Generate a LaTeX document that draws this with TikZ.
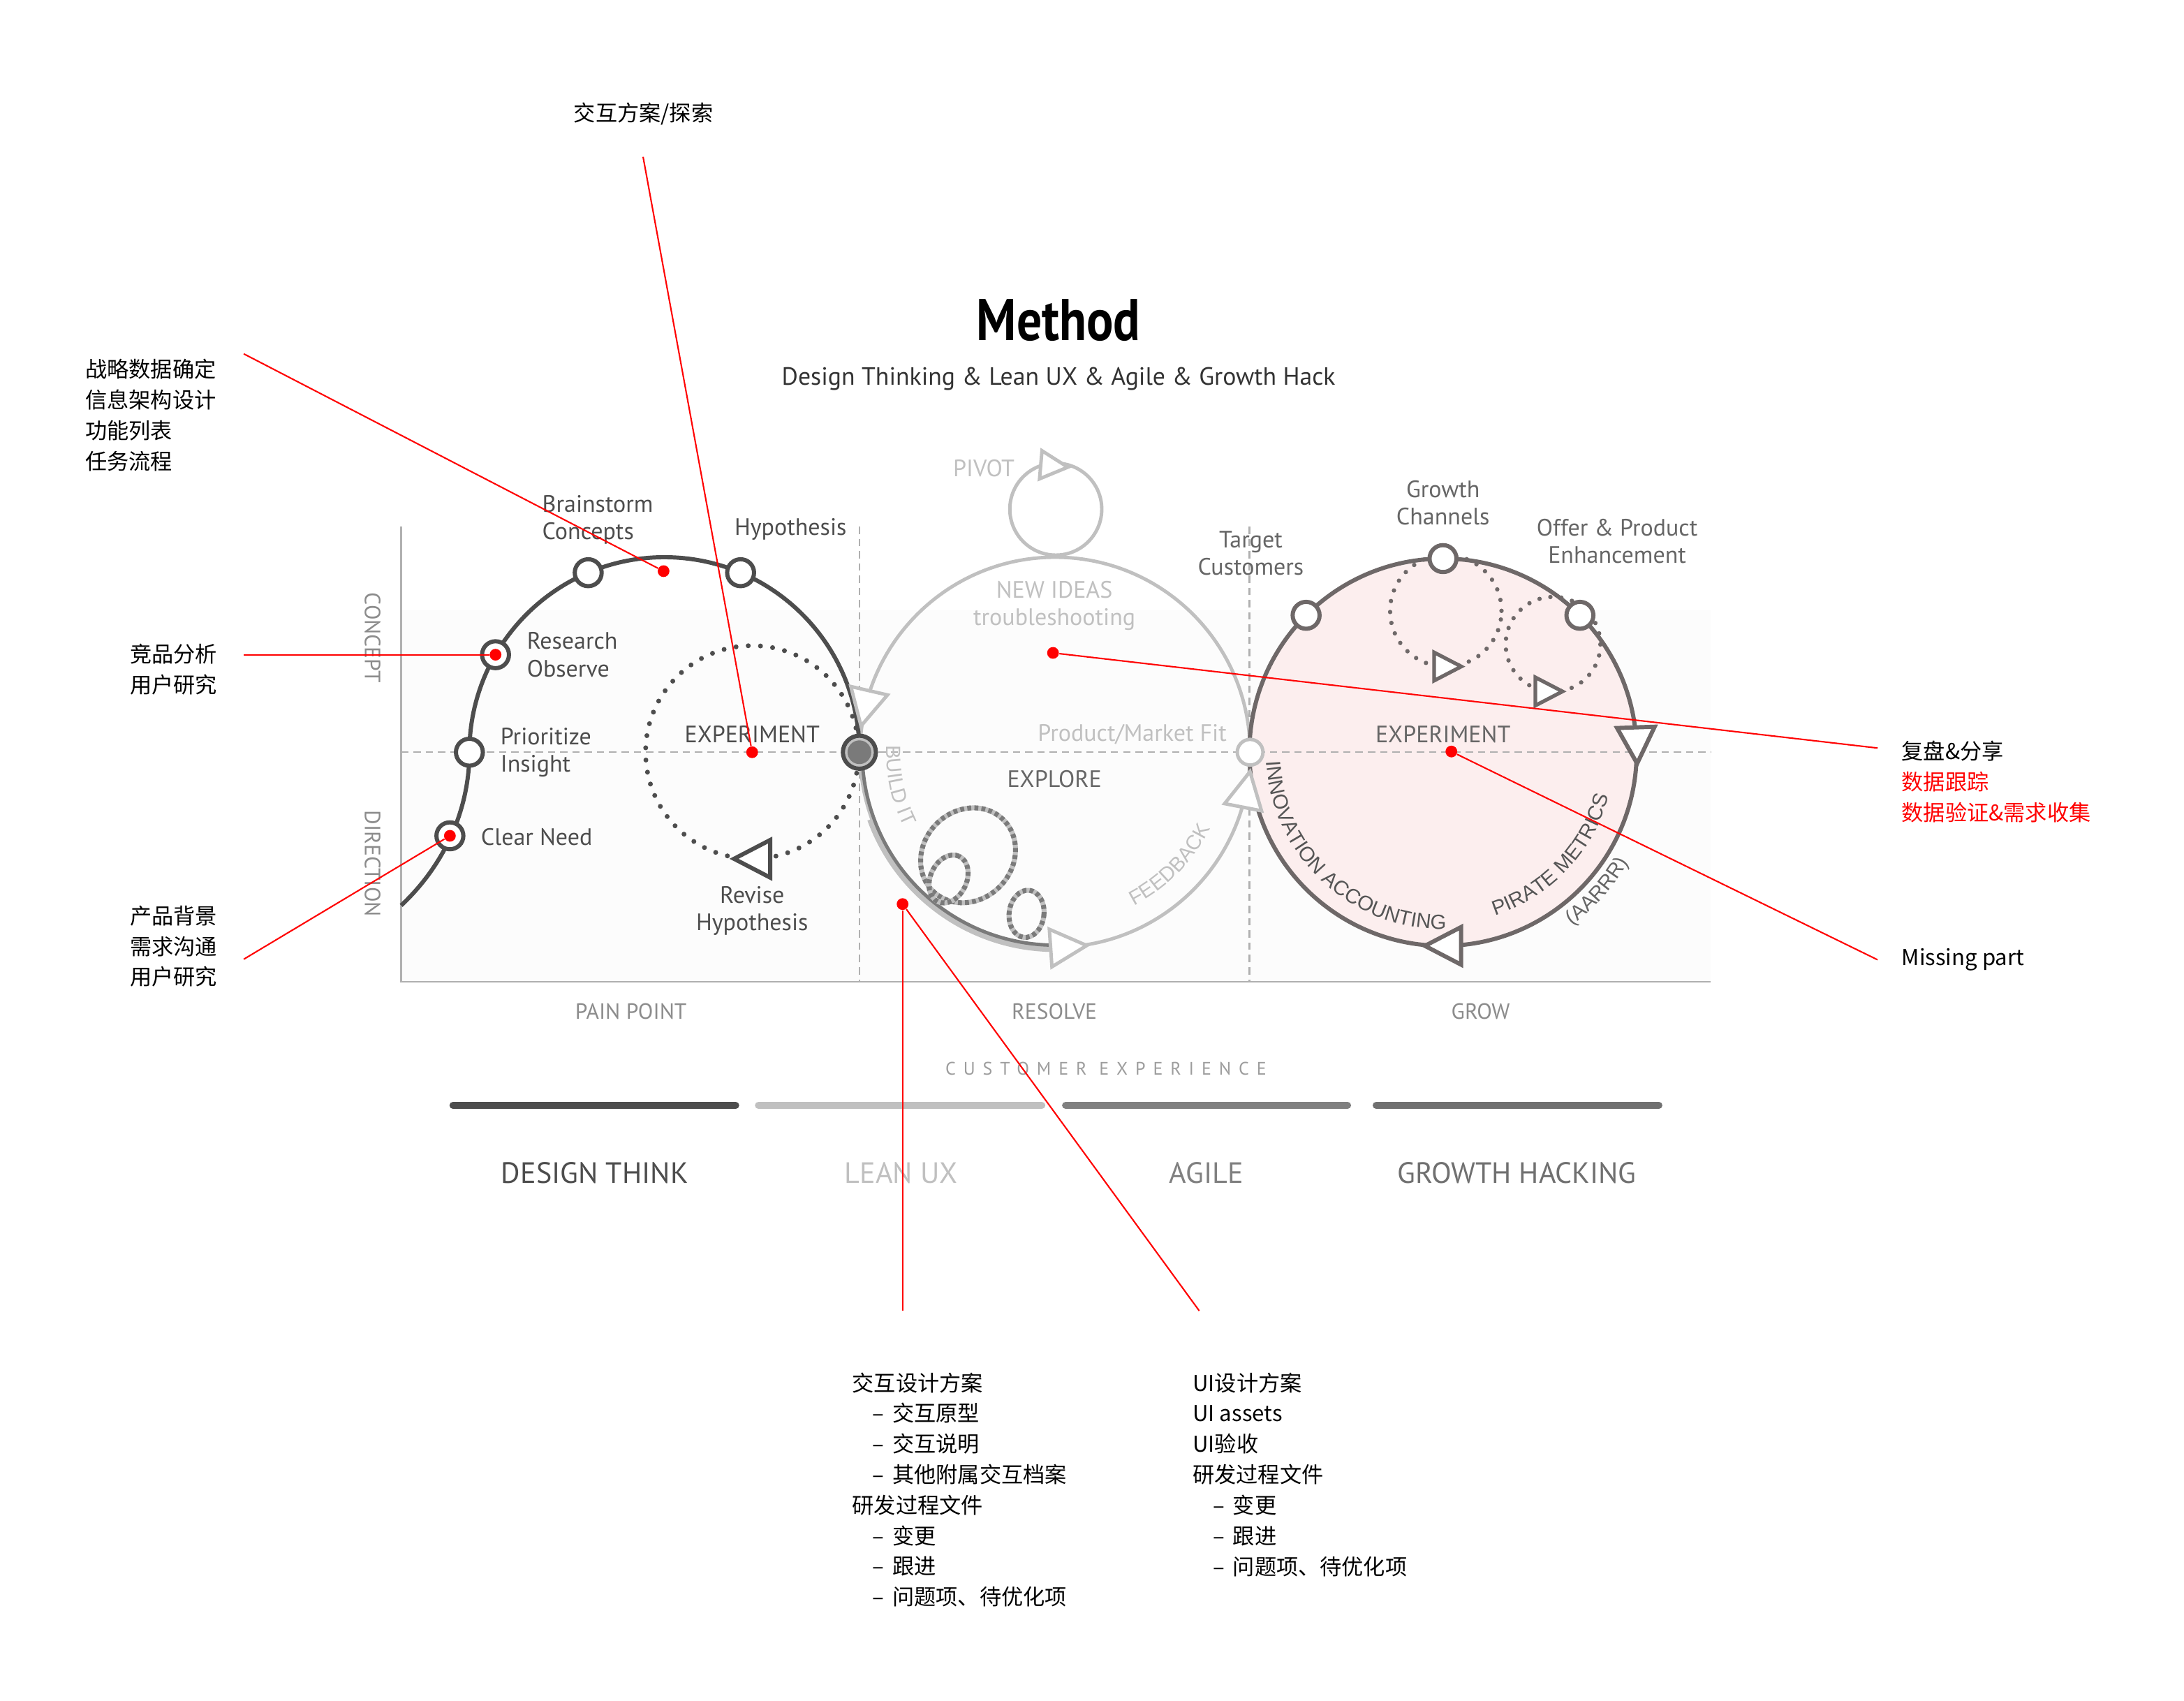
\documentclass[tikz,border=0pt]{standalone}
\usepackage{graphicx}
\usepackage{fontspec}
\setmainfont{PT Sans}
\newfontfamily\cjk{Noto Sans CJK SC}
\newfontfamily\arialfam{Liberation Sans}
\usetikzlibrary{calc,decorations.text}

\definecolor{dtgray}{HTML}{4D4D4D}
\definecolor{luxgray}{HTML}{C0C0C0}
\definecolor{buildgray}{HTML}{7A7A7A}
\definecolor{aglgray}{HTML}{808080}
\definecolor{ghgray}{HTML}{6E6868}
\definecolor{ghbar}{HTML}{707070}
\definecolor{ghtext}{HTML}{555555}
\definecolor{txtgray}{HTML}{666666}
\definecolor{axisgray}{HTML}{8C8C8C}
\definecolor{framegray}{HTML}{B0B0B0}
\definecolor{pinkfill}{HTML}{FCEEEE}
\definecolor{annred}{HTML}{FF0000}

\newcommand\arcfont{\arialfam\fontsize{8.4}{10}\selectfont}
\newcommand\dashitem{\hspace*{8.2pt}\makebox[8.2pt][l]{–}}

\tikzset{
    opentri/.pic={\path[pic actions, line join=miter] (13,0) -- (-13,13.5) -- (-13,-13.5) -- cycle;}
}

\begin{document}
\begin{tikzpicture}[
        x=0.02cm, y=0.02cm,
        dinlabel/.style={font=\fontsize{9.7}{11.2}\selectfont, inner sep=0pt, align=left},
        axislabel/.style={font=\fontsize{9}{11}\selectfont, text=axisgray, inner sep=0pt},
        methodlabel/.style={font=\fontsize{12}{14}\selectfont, inner sep=0pt},
        cnnote/.style={font=\cjk\fontsize{8.9}{12.5}\selectfont, inner sep=0pt, align=left},
        waypoint/.style={circle, draw, fill=white, line width=1.7pt, minimum size=11pt, inner sep=0pt},
        reddot/.style={circle, fill=annred, minimum size=4.8pt, inner sep=0pt},
        redline/.style={annred, line width=0.6pt},
        gridline/.style={framegray, line width=0.6pt, dash pattern=on 3pt off 2pt},
        dotring/.style={line width=2pt, dash pattern=on 0pt off 5pt, line cap=round},
        looppath/.style={line width=2pt, dash pattern=on 1.6pt off 1.3pt},
        bar/.style={line width=2.85pt, line cap=round},
        curvetext/.style 2 args={decorate, decoration={text along path, text align=center, text color=#1, text={|\arcfont|#2}}}
    ]

    \fill[white] (0,0) rectangle (1568,-1221);
    \useasboundingbox (0,0) rectangle (1568,-1221);

    \coordinate (lc) at (477,-540);
    \coordinate (ec) at (540,-540);
    \coordinate (mc) at (757.5,-540);
    \coordinate (pc) at (758,-365.5);
    \coordinate (rc) at (1036,-540);
    \coordinate (gc1) at (1038,-438.5);
    \coordinate (gc2) at (1115,-462.5);

    \fill[black!1] (288,-438) rectangle (1228,-705);
    \fill[pinkfill] (rc) circle[radius=139];
    \draw[gridline] (288,-540) -- (1228,-540);
    \draw[gridline] (617,-378) -- (617,-705);
    \draw[gridline] (897,-378) -- (897,-705);
    \draw[framegray, line width=0.6pt] (288,-378) -- (288,-705) -- (1228,-705);

    \draw[luxgray, line width=1.4pt] (mc) circle[radius=140];
    \draw[luxgray, line width=1.4pt] (pc) circle[radius=33];
    \draw[luxgray, line width=1.6pt] ($(mc)+(200:142)$) arc[start angle=200, end angle=272, radius=142];
    \draw[buildgray, line width=1.4pt] ($(mc)+(180:138.5)$) arc[start angle=180, end angle=272, radius=138.5];
    \foreach \cx/\cy/\rx/\ry/\rot in {695/-614/36/32/45, 681/-631/18/13/65, 737/-656/12.5/17/-7} {
        \draw[luxgray, line width=2pt, rotate around={\rot:(\cx,\cy)}] (\cx,\cy) ellipse[x radius=\rx, y radius=\ry];
        \draw[looppath, buildgray, rotate around={\rot:(\cx,\cy)}] (\cx,\cy) ellipse[x radius=\rx, y radius=\ry];
    }

    \draw[dtgray, line width=1.7pt] ($(lc)+(0:140)$) arc[start angle=0, end angle=180, radius=140]
        .. controls +(0,-40) and (320,-620) .. (288,-650);
    \draw[dotring, dtgray] (ec) circle[radius=76.5];
    \draw[dotring, ghgray, line width=1.8pt, dash pattern=on 0pt off 4.5pt] (gc1) circle[radius=40];
    \draw[dotring, ghgray, line width=1.8pt, dash pattern=on 0pt off 4.5pt] (gc2) circle[radius=34];
    \draw[ghgray, line width=1.7pt] (rc) circle[radius=139];

    \pic[draw=dtgray, fill=white, line width=1.7pt, rotate=180] at ($(ec)+(270:76.5)$) {opentri};
    \pic[draw=luxgray, fill=white, line width=1.4pt, rotate=257] at ($(mc)+(167:140)$) {opentri};
    \pic[draw=luxgray, fill=white, line width=1.4pt, rotate=4] at ($(mc)+(274:140)$) {opentri};
    \pic[draw=luxgray, fill=white, line width=1.4pt, rotate=79] at ($(mc)+(349:140)$) {opentri};
    \pic[draw=luxgray, fill=white, line width=1.4pt, rotate=-5, scale=0.75] at ($(pc)+(92:31)$) {opentri};
    \pic[draw=ghgray, fill=white, line width=1.7pt, rotate=-88] at ($(rc)+(2:139)$) {opentri};
    \pic[draw=ghgray, fill=white, line width=1.7pt, rotate=180] at ($(rc)+(270:139)$) {opentri};
    \pic[draw=ghgray, fill=white, line width=1.5pt, scale=0.75] at ($(gc1)+(272:40)$) {opentri};
    \pic[draw=ghgray, fill=white, line width=1.5pt, scale=0.75] at ($(gc2)+(265:34)$) {opentri};

    \node[waypoint, draw=dtgray] (brainstorm) at ($(lc)+(113:140)$) {};
    \node[waypoint, draw=dtgray] (hypothesis) at ($(lc)+(67:140)$) {};
    \node[waypoint, draw=dtgray] (research) at ($(lc)+(150:140)$) {};
    \node[waypoint, draw=dtgray] (prioritize) at ($(lc)+(180:140)$) {};
    \node[waypoint, draw=dtgray] (clearneed) at (323,-600) {};
    \node[waypoint, draw=dtgray, fill=luxgray, minimum size=13.5pt] (buildit) at ($(lc)+(0:140)$) {};
    \fill[buildgray] (buildit.center) circle[radius=8.5];
    \node[waypoint, draw=luxgray, line width=1.4pt, minimum size=10.5pt] (pmf) at ($(mc)+(0:140)$) {};
    \node[waypoint, draw=ghgray] (target) at ($(rc)+(135:139)$) {};
    \node[waypoint, draw=ghgray] (channels) at ($(rc)+(90:139)$) {};
    \node[waypoint, draw=ghgray] (offer) at ($(rc)+(45:139)$) {};

    \node[font=\bfseries\fontsize{24}{28}\selectfont] (title) at (760,-230) {\scalebox{0.85}[1]{Method}};
    \node[font=\fontsize{10.2}{12}\selectfont, text=black!80] (subtitle) at (760,-272) {Design Thinking \& Lean UX \& Agile \& Growth Hack};

    \node[dinlabel, text=dtgray, anchor=west] (lbrainstorm) at (389,-373) {Brainstorm\\Concepts};
    \node[dinlabel, text=dtgray, anchor=west] (lhypothesis) at (527,-380) {Hypothesis};
    \node[dinlabel, text=dtgray, anchor=west] (lresearch) at (378,-470) {Research\\Observe};
    \node[dinlabel, text=dtgray, anchor=west] (lprioritize) at (359,-540) {Prioritize\\Insight};
    \node[dinlabel, text=dtgray, anchor=west] (lclearneed) at (345,-601) {Clear Need};
    \node[dinlabel, text=dtgray] (lexperiment) at (540,-527) {EXPERIMENT};
    \node[dinlabel, text=dtgray, align=center] (lrevise) at (540,-654) {Revise\\Hypothesis};
    \node[dinlabel, text=luxgray, anchor=west] (lpivot) at (684,-336) {PIVOT};
    \node[dinlabel, text=luxgray, align=center] (lnewideas) at (757,-435) {NEW IDEAS\\troubleshooting};
    \node[dinlabel, text=txtgray, align=center] (ltarget) at (898,-397) {Target\\Customers};
    \node[dinlabel, text=luxgray, anchor=east] (lpmf) at (881,-527) {Product/Market Fit};
    \node[dinlabel, text=txtgray] (lexplore) at (757,-559) {EXPLORE};
    \node[dinlabel, text=txtgray, align=center] (lchannels) at (1036,-361) {Growth\\Channels};
    \node[dinlabel, text=txtgray, align=center] (loffer) at (1161,-388.5) {Offer \& Product\\Enhancement};
    \node[dinlabel, text=txtgray] (rexperiment) at (1036,-527) {EXPERIMENT};

    \path[curvetext={luxgray}{BUILD IT}] ($(mc)+(170:121)$) arc[start angle=170, end angle=214, radius=121];
    \path[curvetext={luxgray}{FEEDBACK}] ($(mc)+(295:124)$) arc[start angle=295, end angle=336, radius=124];
    \path[curvetext={ghtext}{INNOVATION ACCOUNTING}] ($(rc)+(172:127)$) arc[start angle=172, end angle=282, radius=127];
    \path[curvetext={ghtext}{PIRATE METRICS}] ($(rc)+(280:123)$) arc[start angle=280, end angle=353, radius=123];
    \path[curvetext={txtgray}{(AARRR)}] ($(rc)+(300:155)$) arc[start angle=300, end angle=336, radius=155];

    \node[axislabel, rotate=-90] (concept) at (267.5,-458) {CONCEPT};
    \node[axislabel, rotate=-90] (direction) at (267.5,-620) {DIRECTION};
    \node[axislabel] (painpoint) at (453,-726) {PAIN POINT};
    \node[axislabel] (resolve) at (757,-726) {RESOLVE};
    \node[axislabel] (grow) at (1063,-726) {GROW};
    \node[axislabel, font=\fontsize{7.4}{8}\selectfont\addfontfeatures{LetterSpace=42}, text=axisgray!85] (custexp) at (794,-767) {CUSTOMER EXPERIENCE};

    \draw[bar, dtgray] (325.2,-793.5) -- (528.2,-793.5);
    \draw[bar, luxgray] (544.5,-793.5) -- (748,-793.5);
    \draw[bar, aglgray] (765,-793.5) -- (967.5,-793.5);
    \draw[bar, ghbar] (988,-793.5) -- (1191,-793.5);
    \node[methodlabel, text=dtgray] (designthink) at (427,-842) {DESIGN THINK};
    \node[methodlabel, text=luxgray] (leanux) at (647,-842) {LEAN UX};
    \node[methodlabel, text=aglgray] (agile) at (866,-842) {AGILE};
    \node[methodlabel, text=ghbar] (growthhacking) at (1089,-842) {GROWTH HACKING};

    \node[cnnote, anchor=west] (plannote) at (61,-298) {战略数据确定\\信息架构设计\\功能列表\\任务流程};
    \node[cnnote] (flownote) at (462,-81.7) {交互方案/探索};
    \node[cnnote, anchor=west] (researchnote) at (93,-480.7) {竞品分析\\用户研究};
    \node[cnnote, anchor=west] (neednote) at (93,-679.4) {产品背景\\需求沟通\\用户研究};
    \node[cnnote, anchor=west] (reviewnote) at (1365,-561.3) {复盘\&分享\\\textcolor{annred}{数据跟踪}\\\textcolor{annred}{数据验证\&需求收集}};
    \node[cnnote, anchor=west] (missingnote) at (1365,-688.7) {Missing part};
    \node[cnnote, anchor=west] (uxnote) at (611.6,-1069.4) {交互设计方案\\\dashitem 交互原型\\\dashitem 交互说明\\\dashitem 其他附属交互档案\\研发过程文件\\\dashitem 变更\\\dashitem 跟进\\\dashitem 问题项、待优化项};
    \node[cnnote, anchor=west] (uinote) at (856,-1058.5) {UI设计方案\\UI assets\\UI验收\\研发过程文件\\\dashitem 变更\\\dashitem 跟进\\\dashitem 问题项、待优化项};

    \node[reddot] (dotplan) at (476.4,-410) {};
    \node[reddot] (dotflow) at (ec) {};
    \node[reddot] (dotresearch) at (research) {};
    \node[reddot] (dotneed) at (clearneed) {};
    \node[reddot] (dotreview) at (756,-468.7) {};
    \node[reddot] (dotmissing) at (1042,-539.5) {};
    \node[reddot] (dotbuild) at (648,-649) {};

    \coordinate (planend) at (175,-254);
    \coordinate (flowend) at (461.7,-112.6);
    \coordinate (researchend) at (175,-470);
    \coordinate (needend) at (175,-688.6);
    \coordinate (reviewend) at (1348,-537);
    \coordinate (missingend) at (1348,-689);
    \coordinate (uxend) at (648,-941);
    \coordinate (uiend) at (861,-941);

    \draw[redline] (planend) -- (dotplan);
    \draw[redline] (flowend) -- (dotflow);
    \draw[redline] (researchend) -- (dotresearch);
    \draw[redline] (needend) -- (dotneed);
    \draw[redline] (dotreview) -- (reviewend);
    \draw[redline] (dotmissing) -- (missingend);
    \draw[redline] (dotbuild) -- (uxend);
    \draw[redline] (dotbuild) -- (uiend);
\end{tikzpicture}
\end{document}
